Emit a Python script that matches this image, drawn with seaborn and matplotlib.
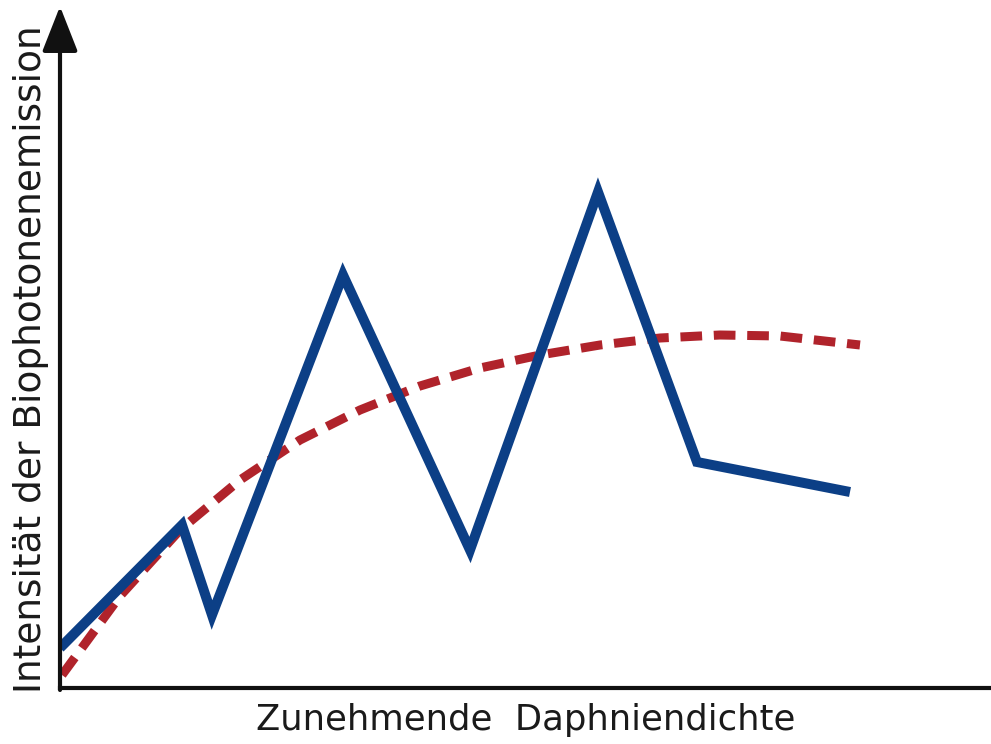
import matplotlib
matplotlib.use("Agg")
import matplotlib.pyplot as plt
import seaborn as sns
import pandas as pd

# measured series (arbitrary units, origin at axis corner)
blue_x = [0, 122, 152, 283, 410, 538, 637, 790]
blue_y = [40, 163, 73, 413, 138, 496, 226, 196]
red_x = [2, 60, 120, 180, 240, 300, 360, 420, 480, 540, 600, 660, 720, 800]
red_y = [13, 92, 158, 208, 248, 278, 302, 320, 333, 343, 350, 353, 352, 343]

xlabel = "Zunehmende  Daphniendichte"
ylabel = "Intensität der Biophotonenemission"

sns.set_theme(style="white")
plt.rcParams['font.family'] = ['DejaVu Sans']

fig = plt.figure(figsize=(9.91, 7.44), dpi=100)
ax = fig.add_axes([60 / 991, 56 / 744, 931 / 991, 658 / 744])

df_blue = pd.DataFrame({'x': blue_x, 'y': blue_y})
df_red = pd.DataFrame({'x': red_x, 'y': red_y})
sns.lineplot(data=df_red, x='x', y='y', ax=ax, color='#b0232b', lw=6.5,
             linestyle=(0, (2.4, 1.3)), estimator=None, sort=False)
sns.lineplot(data=df_blue, x='x', y='y', ax=ax, color='#0c3f86', lw=7.2,
             estimator=None, sort=False, solid_joinstyle='miter',
             solid_capstyle='butt')

ax.set_xlim(0, 931)
ax.set_ylim(0, 658)
ax.set_xticks([])
ax.set_yticks([])
for side in ['top', 'right', 'left']:
    ax.spines[side].set_visible(False)
ax.spines['bottom'].set_linewidth(3)
ax.spines['bottom'].set_color('#111111')

# y axis with arrow head
ax.annotate('', xy=(0, 1.036), xytext=(0, -0.003), xycoords='axes fraction',
            arrowprops=dict(arrowstyle='-|>,head_length=1.4,head_width=0.55',
                            lw=3, color='#111111', mutation_scale=20, shrinkA=0, shrinkB=0),
            annotation_clip=False)

ax.set_xlabel(xlabel, fontsize=25.5, color='#1a1a1a', labelpad=11)
ax.set_ylabel(ylabel, fontsize=27, color='#1a1a1a', labelpad=8)

fig.savefig('out.png', dpi=100)
